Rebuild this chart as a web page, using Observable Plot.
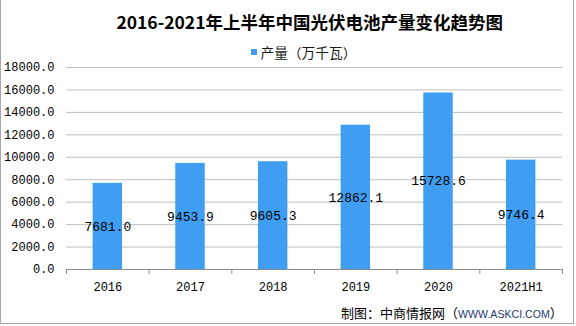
<!DOCTYPE html>
<html><head><meta charset="utf-8">
<script src="https://cdn.jsdelivr.net/npm/d3@7"></script>
<script src="https://cdn.jsdelivr.net/npm/@observablehq/plot@0.6"></script>
<style>
body{margin:0;background:#fff;}
#wrap{position:relative;width:576px;height:326px;overflow:hidden;background:#fff;font-family:"Noto Sans CJK SC",sans-serif;}
#frame{position:absolute;left:0;top:-1px;width:574px;height:325px;border:1px solid #a6a6a6;box-sizing:border-box;pointer-events:none;}
#chart{position:absolute;left:0;top:0;}
#title{position:absolute;left:309.7px;top:11px;transform:translateX(-50%);font-size:17.5px;line-height:21px;font-weight:700;white-space:nowrap;color:#000;}
#legend-sw{position:absolute;left:251px;top:48.5px;width:6px;height:6px;background:#3f9ef2;}
#legend-tx{position:absolute;left:260.5px;top:44.5px;font-size:13.7px;line-height:14px;white-space:nowrap;color:#1a1a1a;}
#caption{position:absolute;left:341px;top:306px;font-size:13px;line-height:14px;white-space:nowrap;color:#000;}
#caption span{color:#1f3a6e;font-family:"Liberation Sans",Arial,sans-serif;font-size:10.6px;}
</style></head>
<body>
<div id="wrap">
  <div id="chart"></div>
  <div id="title">2016-2021年上半年中国光伏电池产量变化趋势图</div>
  <div id="legend-sw"></div>
  <div id="legend-tx">产量（万千瓦）</div>
  <div id="caption">制图：中商情报网（<span>WWW.ASKCI.COM</span>）</div>
  <div id="frame"></div>
</div>
<script>
const categories = ["2016", "2017", "2018", "2019", "2020", "2021H1"];
const values = [7681.0, 9453.9, 9605.3, 12862.1, 15728.6, 9746.4];
const yTicks = [0, 2000, 4000, 6000, 8000, 10000, 12000, 14000, 16000, 18000];

const data = categories.map((c, i) => ({c, i, v: values[i]}));
const mono = "Liberation Mono, DejaVu Sans Mono, monospace";

const chart = Plot.plot({
  width: 576,
  height: 326,
  marginTop: 67,
  marginBottom: 57,
  marginLeft: 66,
  marginRight: 14,
  style: {background: "transparent"},
  x: {domain: [0, categories.length], axis: null},
  y: {domain: [0, 18000], axis: null},
  marks: [
    Plot.gridY(yTicks.slice(1), {stroke: "#bfbfbf", strokeOpacity: 1}),
    Plot.axisY(yTicks, {label: null, tickSize: 0, tickPadding: 12, tickFormat: d => d.toFixed(1), fontSize: 12, fontFamily: mono, fill: "#000"}),
    Plot.rectY(data, {x1: "i", x2: d => d.i + 1, y: "v", insetLeft: 26.6, insetRight: 26.6, fill: "#3f9ef2"}),
    Plot.ruleY([0], {stroke: "#8c8c8c"}),
    Plot.axisX(d3.range(categories.length + 1), {label: null, tickSize: 5, tickFormat: () => "", stroke: "#8c8c8c"}),
    Plot.axisX(categories.map((c, i) => i + 0.5), {label: null, tickSize: 0, tickPadding: 13, tickFormat: d => categories[Math.floor(d)], fontSize: 12, fontFamily: mono, fill: "#000"}),
    Plot.text(data, {x: d => d.i + 0.5, y: d => d.v / 2, text: d => d.v.toFixed(1), fontSize: 13, fontFamily: mono, fill: "#000"})
  ]
});
document.getElementById("chart").appendChild(chart);
</script>
</body></html>
